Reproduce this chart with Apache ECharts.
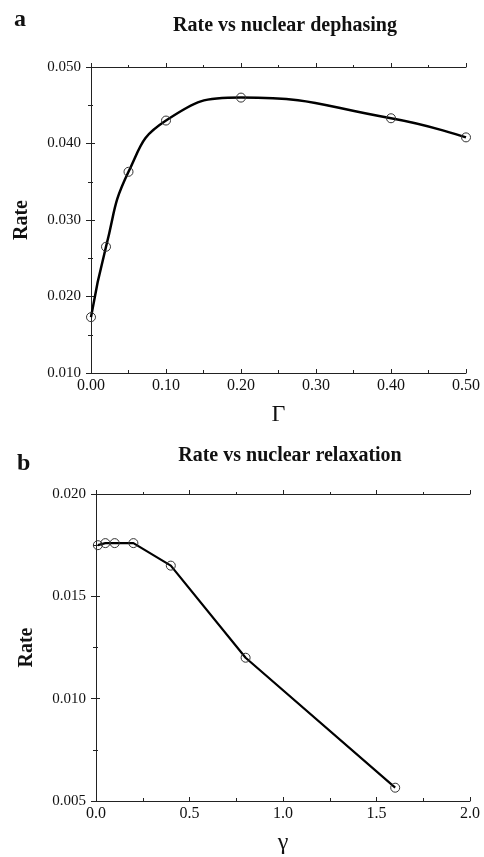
<!DOCTYPE html>
<html><head><meta charset="utf-8">
<script src="https://cdn.jsdelivr.net/npm/echarts@6/dist/echarts.min.js"></script>
<style>html,body{margin:0;padding:0;background:#fff}#c{width:484px;height:857px}</style>
</head><body><div id="c"></div>
<script>
// Panel a: Rate vs nuclear dephasing
const dephasingGamma = [0.00, 0.02, 0.05, 0.10, 0.20, 0.40, 0.50];
const dephasingRate  = [0.0173, 0.0265, 0.0363, 0.0430, 0.0460, 0.0433, 0.0408];
// Panel b: Rate vs nuclear relaxation
const relaxGamma = [0.01, 0.05, 0.10, 0.20, 0.40, 0.80, 1.60];
const relaxRate  = [0.0175, 0.0176, 0.0176, 0.0176, 0.0165, 0.0120, 0.00565];
// Tick labels
const xTicksA = ['0.00','0.10','0.20','0.30','0.40','0.50'];
const yTicksA = ['0.010','0.020','0.030','0.040','0.050'];
const xTicksB = ['0.0','0.5','1.0','1.5','2.0'];
const yTicksB = ['0.005','0.010','0.015','0.020'];
const titles = ['Rate vs nuclear dephasing', 'Rate vs nuclear relaxation'];
const panelLetters = ['a', 'b'];

const serif = '"Liberation Serif","DejaVu Serif",serif';
const axisLine = {show: true, lineStyle: {color: '#222', width: 1}};
function fmt(list, step, min) {
  return v => { const i = Math.round((v - min) / step); return list[i] !== undefined ? list[i] : ''; };
}
function mainX(grid, min, max, interval, ticks, name, nameGap) {
  return {
    gridIndex: grid, type: 'value', min, max, interval, position: 'bottom',
    axisLine, splitLine: {show: false},
    axisTick: {show: true, inside: true, length: 4, lineStyle: {color: '#222'}},
    minorTick: {show: true, splitNumber: 2, length: 3, lineStyle: {color: '#222'}},
    axisLabel: {color: '#111', fontFamily: serif, fontSize: 16, margin: 5, formatter: fmt(ticks, interval, min)},
    name, nameLocation: 'middle', nameGap,
    nameTextStyle: {fontFamily: serif, fontSize: 24, color: '#111'}
  };
}
function sideX(grid, min, max, interval) {
  return {
    gridIndex: grid, type: 'value', min, max, interval, position: 'top',
    axisLine, splitLine: {show: false}, axisLabel: {show: false},
    axisTick: {show: true, inside: false, length: 4, lineStyle: {color: '#222'}},
    minorTick: {show: true, splitNumber: 2, length: 2, lineStyle: {color: '#222'}}
  };
}
function mainY(grid, min, max, interval, ticks) {
  return {
    gridIndex: grid, type: 'value', min, max, interval, position: 'left',
    axisLine, splitLine: {show: false},
    axisTick: {show: true, inside: false, length: 5, lineStyle: {color: '#222'}},
    minorTick: {show: true, splitNumber: 2, length: 3, lineStyle: {color: '#222'}},
    axisLabel: {color: '#111', fontFamily: serif, fontSize: 15, margin: 10, formatter: fmt(ticks, interval, min)},
    name: 'Rate', nameLocation: 'middle', nameGap: 59, nameRotate: 90,
    nameTextStyle: {fontFamily: serif, fontSize: 20, fontWeight: 'bold', color: '#111'}
  };
}
function sideY(grid, min, max, interval) {
  return {
    gridIndex: grid, type: 'value', min, max, interval, position: 'right',
    axisLine, splitLine: {show: false}, axisLabel: {show: false},
    axisTick: {show: true, inside: false, length: 4, lineStyle: {color: '#222'}},
    minorTick: {show: true, splitNumber: 2, length: 2, lineStyle: {color: '#222'}}
  };
}
const marker = {color: 'rgba(0,0,0,0)', borderColor: '#333', borderWidth: 1};

const option = {
  backgroundColor: '#fff',
  animation: false,
  title: [
    {text: titles[0], left: 280, top: 11, textAlign: 'center', textStyle: {fontFamily: serif, fontSize: 20, fontWeight: 'bold', color: '#111'}},
    {text: titles[1], left: 285, top: 441, textAlign: 'center', textStyle: {fontFamily: serif, fontSize: 20, fontWeight: 'bold', color: '#111'}},
    {text: panelLetters[0], left: 9, top: 3, textStyle: {fontFamily: serif, fontSize: 24, fontWeight: 'bold', color: '#111'}},
    {text: panelLetters[1], left: 12, top: 447, textStyle: {fontFamily: serif, fontSize: 24, fontWeight: 'bold', color: '#111'}}
  ],
  grid: [
    {left: 91, right: 18, top: 67, height: 306},
    {left: 96, right: 14, top: 494, height: 307}
  ],
  xAxis: [
    mainX(0, 0, 0.5, 0.1, xTicksA, 'Γ', 30),
    sideX(0, 0, 0.5, 0.1),
    mainX(1, 0, 2.0, 0.5, xTicksB, 'γ', 30),
    sideX(1, 0, 2.0, 0.5)
  ],
  yAxis: [
    mainY(0, 0.010, 0.050, 0.010, yTicksA),
    sideY(0, 0.010, 0.050, 0.010),
    mainY(1, 0.005, 0.020, 0.005, yTicksB),
    sideY(1, 0.005, 0.020, 0.005)
  ],
  series: [
    {
      type: 'line', xAxisIndex: 0, yAxisIndex: 0,
      data: dephasingGamma.map((g, i) => [g, dephasingRate[i]]),
      smooth: 0.5,
      symbol: 'circle', symbolSize: 9,
      lineStyle: {color: '#000', width: 2.5},
      itemStyle: marker
    },
    {
      type: 'line', xAxisIndex: 2, yAxisIndex: 2,
      data: relaxGamma.map((g, i) => [g, relaxRate[i]]),
      smooth: false,
      symbol: 'circle', symbolSize: 9,
      lineStyle: {color: '#000', width: 2.2},
      itemStyle: marker
    }
  ]
};
const chart = echarts.init(document.getElementById('c'), null, {renderer: 'canvas'});
chart.setOption(option);
</script></body></html>
